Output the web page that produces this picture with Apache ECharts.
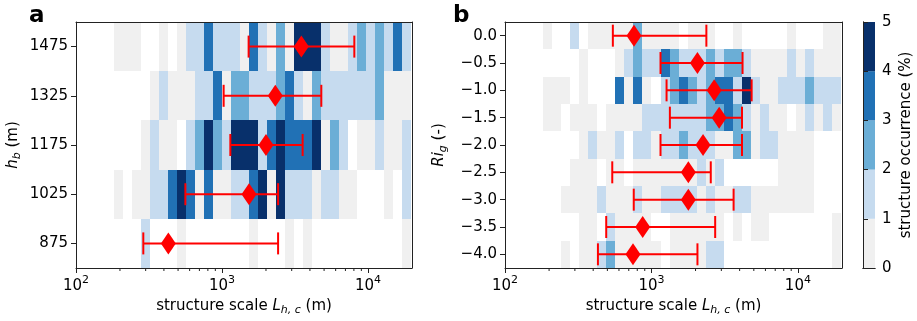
<!DOCTYPE html>
<html><head><meta charset="utf-8">
<script src="https://cdn.jsdelivr.net/npm/echarts@6/dist/echarts.min.js"></script>
<style>html,body{margin:0;padding:0;background:#fff}#c{width:917px;height:321px}</style>
</head><body><div id="c"></div>
<script>
const _ = null;
// log-spaced structure-scale bin edges (m)
const binEdges = [181.8,209.6,241.5,278.4,320.9,369.9,426.4,491.5,566.6,653.1,752.8,867.8,1000,1153,1329,1532,1766,2035,2346,2704,3117,3593,4140,4773,5502,6342,7310,8426,9710,11190,12900,14870,17140,19760];

// panel a: rows (bottom -> top), occurrence (%) per bin, null = no data
const rowsA = ['875','1025','1175','1325','1475'];
const a875  = [_,_,_,1.5,_,_,_,.5,_,_,_,_,_,_,_,.5,_,_,_,.5,_,.5,_,_,_,_,_,_,_,_,_,_,.5];
const a1025 = [.5,_,.5,.5,1.5,1.5,3.5,4.5,3.5,.5,3.5,.5,.5,1.5,1.5,3.5,4.5,.5,4.5,1.5,1.5,1.5,.5,1.5,1.5,.5,.5,_,_,_,.5,_,1.5];
const a1175 = [_,_,_,.5,1.5,.5,.5,_,1.5,2.5,4.5,2.5,1.5,4.5,4.5,4.5,1.5,3.5,4.5,3.5,3.5,3.5,4.5,.5,2.5,1.5,_,.5,.5,1.5,.5,.5,1.5];
const a1325 = [_,_,_,_,.5,1.5,.5,.5,.5,1.5,1.5,3.5,.5,2.5,2.5,1.5,1.5,1.5,2.5,3.5,1.5,.5,2.5,1.5,1.5,1.5,1.5,1.5,1.5,2.5,.5,.5,.5];
const a1475 = [.5,.5,.5,_,_,.5,_,.5,1.5,1.5,3.5,1.5,1.5,1.5,.5,3.5,1.5,.5,2.5,.5,4.5,4.5,4.5,1.5,.5,.5,1.5,2.5,1.5,2.5,1.5,3.5,1.5];
const centerA = [429, 1531, 2000, 2317, 3493];
const loA     = [289, 561, 1140, 1026, 1521];
const hiA     = [2421, 2421, 3565, 4786, 8054];

// panel b: rows (bottom -> top)
const rowsB = ['\u22124.0','\u22123.5','\u22123.0','\u22122.5','\u22122.0','\u22121.5','\u22121.0','\u22120.5','0.0'];
const bM40 = [_,_,.5,_,.5,.5,1.5,2.5,.5,.5,.5,.5,.5,_,.5,.5,.5,.5,1.5,1.5,_,_,_,_,_,_,_,_,_,_,_,_,.5];
const bM35 = [_,_,_,_,.5,.5,_,1.5,.5,.5,.5,.5,_,_,.5,.5,.5,.5,.5,.5,_,.5,_,.5,.5,_,_,_,_,_,_,_,.5];
const bM30 = [_,_,.5,.5,.5,.5,1.5,.5,.5,.5,1.5,.5,.5,1.5,1.5,1.5,1.5,.5,1.5,.5,.5,1.5,1.5,.5,.5,.5,.5,.5,.5,.5,_,_,_];
const bM25 = [_,_,_,.5,.5,.5,_,.5,.5,_,.5,.5,.5,.5,.5,.5,.5,1.5,.5,1.5,_,_,_,_,_,_,.5,.5,.5,.5,_,_,_];
const bM20 = [_,_,_,_,.5,1.5,.5,.5,1.5,_,1.5,1.5,.5,1.5,1.5,2.5,1.5,1.5,1.5,.5,.5,2.5,2.5,.5,1.5,1.5,.5,.5,.5,.5,_,_,_];
const bM15 = [.5,.5,_,.5,.5,.5,_,.5,.5,.5,.5,1.5,1.5,1.5,1.5,1.5,1.5,1.5,2.5,2.5,3.5,2.5,1.5,.5,1.5,.5,.5,_,.5,1.5,.5,1.5,.5];
const bM10 = [.5,.5,.5,_,.5,_,_,_,3.5,.5,3.5,.5,_,1.5,2.5,3.5,2.5,1.5,2.5,3.5,3.5,1.5,4.5,1.5,.5,.5,1.5,1.5,1.5,2.5,1.5,1.5,1.5];
const bM05 = [_,_,_,_,.5,_,_,_,.5,1.5,2.5,1.5,1.5,3.5,2.5,1.5,1.5,1.5,2.5,1.5,2.5,2.5,1.5,.5,.5,.5,.5,1.5,.5,1.5,.5,.5,.5];
const b00  = [.5,_,_,1.5,_,.5,.5,.5,.5,.5,2.5,.5,.5,.5,.5,_,.5,.5,.5,_,_,.5,_,_,_,_,_,.5,_,_,_,.5,.5];
const centerB = [748, 871, 1786, 1786, 2250, 2899, 2681, 2060, 760];
const loB     = [431, 491, 757, 540, 1153, 1336, 1268, 1153, 545];
const hiB     = [2061, 2723, 3638, 2541, 4150, 4150, 4831, 4188, 2371];

// colour bar
const cbEdges = [0, 1, 2, 3, 4, 5];
const levelColors = ['#f0f0f0', '#c6dbef', '#6baed6', '#2171b5', '#08306b'];
const minorTicks = [200,300,400,500,600,700,800,900,2000,3000,4000,5000,6000,7000,8000,9000];

const FONT = 'DejaVu Sans';
const AX = '#222';

function cells(rows) {
  const out = [];
  rows.forEach((arr, r) => arr.forEach((v, k) => {
    if (v !== null) out.push([binEdges[k], r, v, binEdges[k + 1]]);
  }));
  return out;
}
function colorOf(v) { return levelColors[Math.max(0, Math.min(4, Math.floor(v)))]; }
function cellRender(nRows) {
  return function (params, api) {
    const r = api.value(1);
    const p0 = api.coord([api.value(0), r]);
    const p1 = api.coord([api.value(3), r]);
    const h = params.coordSys.height / nRows;
    const x0 = Math.round(p0[0]), x1 = Math.round(p1[0]);
    const y0 = Math.round(p0[1] - h / 2), y1 = Math.round(p0[1] + h / 2);
    return { type: 'rect', shape: { x: x0, y: y0, width: x1 - x0, height: y1 - y0 },
      style: { fill: colorOf(api.value(2)) } };
  };
}
function errRender(params, api) {
  const r = api.value(1);
  const a = api.coord([api.value(0), r]);
  const b = api.coord([api.value(2), r]);
  const st = { stroke: '#ff0000', lineWidth: 2 };
  return { type: 'group', children: [
    { type: 'line', shape: { x1: a[0], y1: a[1], x2: b[0], y2: b[1] }, style: st },
    { type: 'line', shape: { x1: a[0], y1: a[1] - 11, x2: a[0], y2: a[1] + 11 }, style: st },
    { type: 'line', shape: { x1: b[0], y1: b[1] - 11, x2: b[0], y2: b[1] + 11 }, style: st }
  ] };
}
function minorRender(params, api) {
  const p = api.coord([api.value(0), 0]);
  const yb = params.coordSys.y + params.coordSys.height;
  return { type: 'line', shape: { x1: p[0], y1: yb, x2: p[0], y2: yb + 3 },
    style: { stroke: AX, lineWidth: 1 } };
}
function cbRender(params, api) {
  const p0 = api.coord([0, api.value(1)]);
  const p1 = api.coord([1, api.value(2)]);
  return { type: 'rect', shape: { x: p0[0], y: p1[1], width: p1[0] - p0[0], height: p0[1] - p1[1] },
    style: { fill: levelColors[params.dataIndex] } };
}

const richBase = {
  n: { fontSize: 15, fontFamily: FONT, color: '#000' },
  i: { fontSize: 15, fontFamily: FONT, fontStyle: 'italic', color: '#000' },
  sub: { fontSize: 11, fontFamily: FONT, fontStyle: 'italic', color: '#000', padding: [8, 0, 0, 0] },
  b: { fontSize: 15, fontFamily: FONT, color: '#000' },
  s: { fontSize: 11, fontFamily: FONT, color: '#000', padding: [0, 0, 12, 0] }
};
function powLabel(v) {
  const e = Math.log10(v);
  if (Math.abs(e - Math.round(e)) > 1e-6) return '';
  return '{b|10}{s|' + Math.round(e) + '}';
}
function logX(grid, withLabels) {
  return {
    type: 'log', logBase: 10, min: 100, max: 20000, gridIndex: grid, z: 10,
    position: withLabels ? 'bottom' : 'top',
    axisLine: { show: true, lineStyle: { color: AX, width: 1 } },
    axisTick: { show: withLabels, length: 5, lineStyle: { color: AX } },
    axisLabel: { show: withLabels, margin: 7, formatter: powLabel, rich: richBase, showMaxLabel: false },
    splitLine: { show: false },
    name: withLabels ? '{n|structure scale }{i|L}{sub|h, c}{n| (m)}' : '',
    nameLocation: 'middle', nameGap: 26,
    nameTextStyle: { rich: richBase }
  };
}
function catY(grid, data, withLabels, name, gap) {
  return {
    type: 'category', data: data, gridIndex: grid, z: 10,
    position: withLabels ? 'left' : 'right',
    axisLine: { show: true, lineStyle: { color: AX, width: 1 } },
    axisTick: { show: withLabels, alignWithLabel: true, length: 5, lineStyle: { color: AX } },
    axisLabel: { show: withLabels, margin: 8, fontSize: 15, fontFamily: FONT, color: '#000' },
    splitLine: { show: false },
    name: withLabels ? name : '', nameLocation: 'middle', nameRotate: 90, nameGap: gap || 56,
    nameTextStyle: { rich: richBase }
  };
}

const chart = echarts.init(document.getElementById('c'), null, { renderer: 'canvas' });
chart.setOption({
  animation: false,
  backgroundColor: '#fff',
  title: [
    { text: 'a', left: 24, top: 0, textStyle: { fontSize: 23, fontWeight: 'bold', fontFamily: FONT, color: '#000' } },
    { text: 'b', left: 448, top: 0, textStyle: { fontSize: 23, fontWeight: 'bold', fontFamily: FONT, color: '#000' } }
  ],
  grid: [
    { left: 76, top: 22, width: 336, height: 246 },
    { left: 505, top: 22, width: 337, height: 246 },
    { left: 863, top: 22, width: 12, height: 246 }
  ],
  xAxis: [
    logX(0, true), logX(0, false), logX(1, true), logX(1, false),
    { type: 'value', min: 0, max: 1, gridIndex: 2, z: 10, position: 'bottom',
      axisLine: { show: true, lineStyle: { color: AX } }, axisTick: { show: false }, axisLabel: { show: false }, splitLine: { show: false } },
    { type: 'value', min: 0, max: 1, gridIndex: 2, z: 10, position: 'top',
      axisLine: { show: true, lineStyle: { color: AX } }, axisTick: { show: false }, axisLabel: { show: false }, splitLine: { show: false } }
  ],
  yAxis: [
    catY(0, rowsA, true, '{i|h}{sub|b}{n| (m)}', 53), catY(0, rowsA, false, ''),
    catY(1, rowsB, true, '{i|Ri}{sub|g}{n| (-)}', 56), catY(1, rowsB, false, ''),
    { type: 'value', min: 0, max: 5, interval: 1, gridIndex: 2, z: 10, position: 'left',
      axisLine: { show: true, lineStyle: { color: AX } }, axisTick: { show: false }, axisLabel: { show: false }, splitLine: { show: false } },
    { type: 'value', min: 0, max: 5, interval: 1, gridIndex: 2, z: 10, position: 'right',
      axisLine: { show: true, lineStyle: { color: AX } },
      axisTick: { show: true, length: 5, lineStyle: { color: AX } },
      axisLabel: { margin: 7, fontSize: 15, fontFamily: FONT, color: '#000' },
      splitLine: { show: false },
      name: 'structure occurrence (%)', nameLocation: 'middle', nameRotate: 90, nameGap: 24,
      nameTextStyle: { fontSize: 15, fontFamily: FONT, color: '#000' } }
  ],
  series: [
    { type: 'custom', xAxisIndex: 0, yAxisIndex: 0, renderItem: cellRender(rowsA.length),
      data: cells([a875, a1025, a1175, a1325, a1475]), encode: { x: [0, 3], y: 1 }, z: 1 },
    { type: 'custom', xAxisIndex: 0, yAxisIndex: 0, renderItem: errRender,
      data: loA.map((v, i) => [v, i, hiA[i]]), encode: { x: [0, 2], y: 1 }, z: 3 },
    { type: 'scatter', xAxisIndex: 0, yAxisIndex: 0, symbol: 'diamond', symbolSize: [15, 22],
      itemStyle: { color: '#ff0000', opacity: 1 }, data: centerA.map((v, i) => [v, i]), z: 4 },
    { type: 'custom', xAxisIndex: 0, yAxisIndex: 0, renderItem: minorRender, clip: false,
      data: minorTicks.map(v => [v, 0]), encode: { x: 0, y: 1 }, z: 5 },

    { type: 'custom', xAxisIndex: 2, yAxisIndex: 2, renderItem: cellRender(rowsB.length),
      data: cells([bM40, bM35, bM30, bM25, bM20, bM15, bM10, bM05, b00]), encode: { x: [0, 3], y: 1 }, z: 1 },
    { type: 'custom', xAxisIndex: 2, yAxisIndex: 2, renderItem: errRender,
      data: loB.map((v, i) => [v, i, hiB[i]]), encode: { x: [0, 2], y: 1 }, z: 3 },
    { type: 'scatter', xAxisIndex: 2, yAxisIndex: 2, symbol: 'diamond', symbolSize: [15, 22],
      itemStyle: { color: '#ff0000', opacity: 1 }, data: centerB.map((v, i) => [v, i]), z: 4 },
    { type: 'custom', xAxisIndex: 2, yAxisIndex: 2, renderItem: minorRender, clip: false,
      data: minorTicks.map(v => [v, 0]), encode: { x: 0, y: 1 }, z: 5 },

    { type: 'custom', xAxisIndex: 4, yAxisIndex: 5, renderItem: cbRender,
      data: cbEdges.slice(0, -1).map((v, i) => [0.5, v, cbEdges[i + 1]]), encode: { x: 0, y: [1, 2] }, z: 1 }
  ]
});
</script></body></html>
